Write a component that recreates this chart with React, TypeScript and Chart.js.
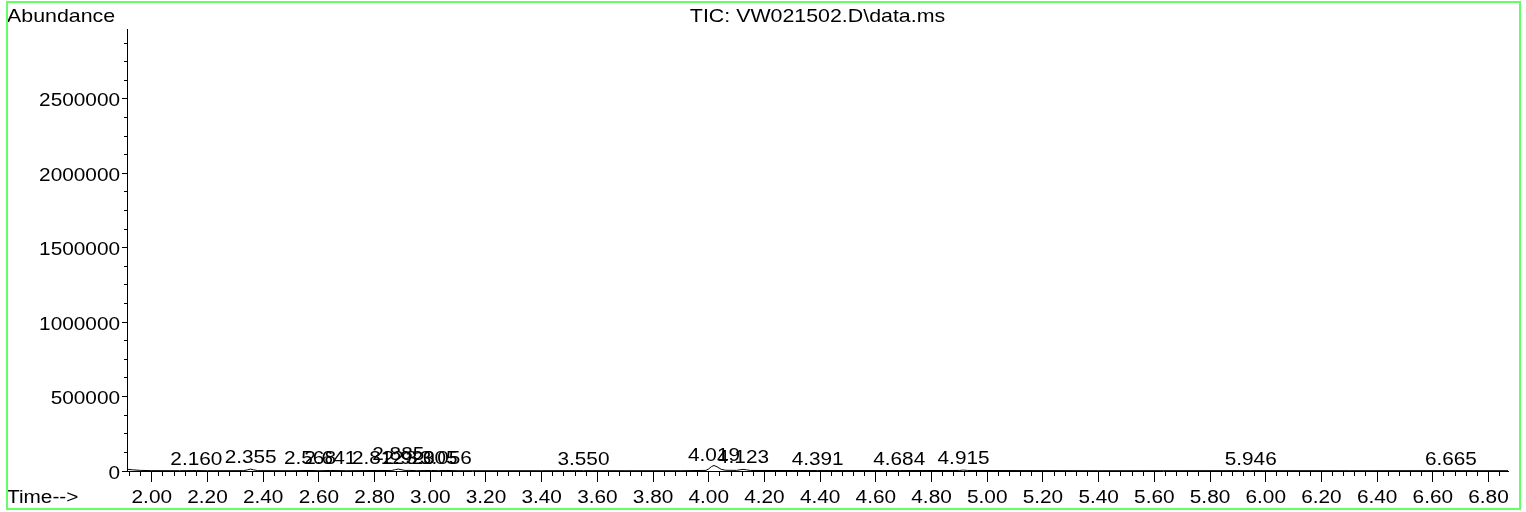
import React, { useEffect, useRef } from "react";
import { Chart, registerables } from "chart.js";

Chart.register(...registerables);

// ---- data ----
const TIMES = [
  1.911, 1.93, 1.96, 2.0, 2.1, 2.16, 2.2, 2.33, 2.345, 2.355, 2.365, 2.38, 2.5, 2.568, 2.6, 2.641, 2.7,
  2.812, 2.86, 2.875, 2.885, 2.895, 2.91, 2.923, 2.95, 3.005, 3.03, 3.056, 3.1, 3.4, 3.55, 3.7, 3.9,
  3.99, 4.0, 4.01, 4.019, 4.03, 4.045, 4.06, 4.1, 4.115, 4.123, 4.135, 4.15, 4.391, 4.684, 4.9, 4.915,
  4.93, 5.4, 5.946, 6.3, 6.665, 6.87,
];
const ABUNDANCE = [
  12000, 8000, 4000, 2500, 2000, 3000, 2000, 2500, 8000, 13000, 8000, 2500, 2000, 3500, 2000, 3500, 2000,
  3500, 3000, 9000, 13000, 9000, 3500, 4000, 2500, 3500, 2500, 3500, 2000, 2000, 2500, 2000, 2000,
  4000, 14000, 30000, 37000, 28000, 11000, 5000, 4000, 9000, 11000, 8000, 3500, 3000, 3000, 3500, 6000,
  3500, 2000, 2500, 2000, 2500, 2000,
];
const PEAK_TIMES = [
  2.16, 2.355, 2.568, 2.641, 2.812, 2.885, 2.923, 3.005, 3.056, 3.55, 4.019, 4.123, 4.391, 4.684, 4.915,
  5.946, 6.665,
];
const PEAK_LABELS = [
  "2.160", "2.355", "2.568", "2.641", "2.812", "2.885", "2.923", "3.005", "3.056", "3.550", "4.019",
  "4.123", "4.391", "4.684", "4.915", "5.946", "6.665",
];
const PEAK_HEIGHTS = [
  3000, 13000, 3500, 3500, 3500, 35000, 4000, 3500, 3500, 2500, 30000, 11000, 3000, 3000, 6000, 2500, 2500,
];
const Y_TICKS = [0, 500000, 1000000, 1500000, 2000000, 2500000];
const Y_MINOR_STEP = 125000;
const X_MIN = 1.911;
const X_MAX = 6.87;
const Y_MAX = 2970000;
const TITLE = "TIC: VW021502.D\\data.ms";
const Y_TITLE = "Abundance";
const X_TITLE = "Time-->";

const FONT = "Liberation Sans";
const K = 1.155; // horizontal stretch of the original print-out text

function drawText(ctx: CanvasRenderingContext2D, text: string, x: number, y: number, align: CanvasTextAlign, size: number) {
  ctx.save();
  ctx.translate(x, y);
  ctx.scale(K, 1);
  ctx.font = `${size}px "${FONT}"`;
  ctx.textAlign = align;
  ctx.textBaseline = "alphabetic";
  ctx.fillStyle = "#000";
  ctx.fillText(text, 0, 0);
  ctx.restore();
}

const decorPlugin = {
  id: "decor",
  beforeDraw(chart: any) {
    const ctx = chart.ctx;
    ctx.save();
    ctx.fillStyle = "#fff";
    ctx.fillRect(0, 0, chart.width, chart.height);
    ctx.restore();
  },
  afterDraw(chart: any) {
    const ctx = chart.ctx;
    const xs = chart.scales.x;
    const ys = chart.scales.y;
    const ca = chart.chartArea;
    // tick labels from the library's scales
    xs.ticks.forEach((t: any) => {
      drawText(ctx, Number(t.value).toFixed(2), xs.getPixelForValue(t.value), 503, "center", 18);
    });
    ys.ticks.forEach((t: any) => {
      drawText(ctx, String(Math.round(t.value)), ca.left - 7, ys.getPixelForValue(t.value) + 7.5, "right", 18);
    });
    // peak labels
    PEAK_TIMES.forEach((t, i) => {
      drawText(ctx, PEAK_LABELS[i], xs.getPixelForValue(t), ys.getPixelForValue(PEAK_HEIGHTS[i]) - 6, "center", 18);
    });
    // titles
    drawText(ctx, TITLE, (ca.left + ca.right) / 2, 21.5, "center", 18.5);
    drawText(ctx, Y_TITLE, 7, 21.5, "left", 18.5);
    drawText(ctx, X_TITLE, 7, 503, "left", 18);
    // green frame
    ctx.save();
    ctx.strokeStyle = "rgb(100,255,100)";
    ctx.lineWidth = 2;
    ctx.strokeRect(7, 2, 1513, 507);
    ctx.restore();
  },
};

export default function App() {
  const ref = useRef<HTMLCanvasElement | null>(null);
  useEffect(() => {
    if (!ref.current) return;
    const yMinor: number[] = [];
    for (let v = 0; v <= Y_MAX; v += Y_MINOR_STEP) yMinor.push(v);
    const chart = new Chart(ref.current, {
      type: "line",
      data: {
        datasets: [
          {
            data: TIMES.map((t, i) => ({ x: t, y: ABUNDANCE[i] })),
            borderColor: "#000",
            borderWidth: 1,
            pointRadius: 0,
            tension: 0,
            fill: false,
          },
        ],
      },
      options: {
        animation: false,
        responsive: false,
        devicePixelRatio: 1,
        layout: { padding: { top: 29, right: 18, left: 0, bottom: 0 } },
        plugins: { legend: { display: false }, tooltip: { enabled: false }, title: { display: false } },
        scales: {
          x: {
            type: "linear",
            position: "bottom",
            min: X_MIN,
            max: X_MAX,
            afterFit: (s: any) => {
              s.height = 41;
            },
            grid: { drawOnChartArea: false, tickLength: 11, color: "#000", tickColor: "#000" },
            border: { color: "#000", width: 1 },
            ticks: { stepSize: 0.2, includeBounds: false, autoSkip: false, display: false },
          },
          xm: {
            type: "linear",
            axis: "x",
            position: { y: 0 },
            min: X_MIN,
            max: X_MAX,
            grid: { drawOnChartArea: false, tickLength: 5, color: "#000", tickColor: "#000" },
            border: { display: false },
            ticks: { stepSize: 0.04, includeBounds: false, autoSkip: false, display: false },
          },
          y: {
            type: "linear",
            position: "left",
            min: 0,
            max: Y_MAX,
            afterBuildTicks: (s: any) => {
              s.ticks = Y_TICKS.map((v) => ({ value: v }));
            },
            afterFit: (s: any) => {
              s.width = 127;
            },
            grid: { drawOnChartArea: false, tickLength: 5, color: "#000", tickColor: "#000" },
            border: { color: "#000", width: 1 },
            ticks: { autoSkip: false, display: false },
          },
          ym: {
            type: "linear",
            axis: "y",
            position: { x: X_MIN },
            min: 0,
            max: Y_MAX,
            afterBuildTicks: (s: any) => {
              s.ticks = yMinor.map((v) => ({ value: v }));
            },
            grid: { drawOnChartArea: false, tickLength: 3, color: "#000", tickColor: "#000" },
            border: { display: false },
            ticks: { autoSkip: false, display: false },
          },
        },
      } as any,
      plugins: [decorPlugin],
    });
    return () => chart.destroy();
  }, []);
  return (
    <div style={{ position: "absolute", left: 0, top: 0, width: 1526, height: 512, background: "#fff" }}>
      <canvas ref={ref} width={1526} height={512} style={{ display: "block" }} />
    </div>
  );
}
